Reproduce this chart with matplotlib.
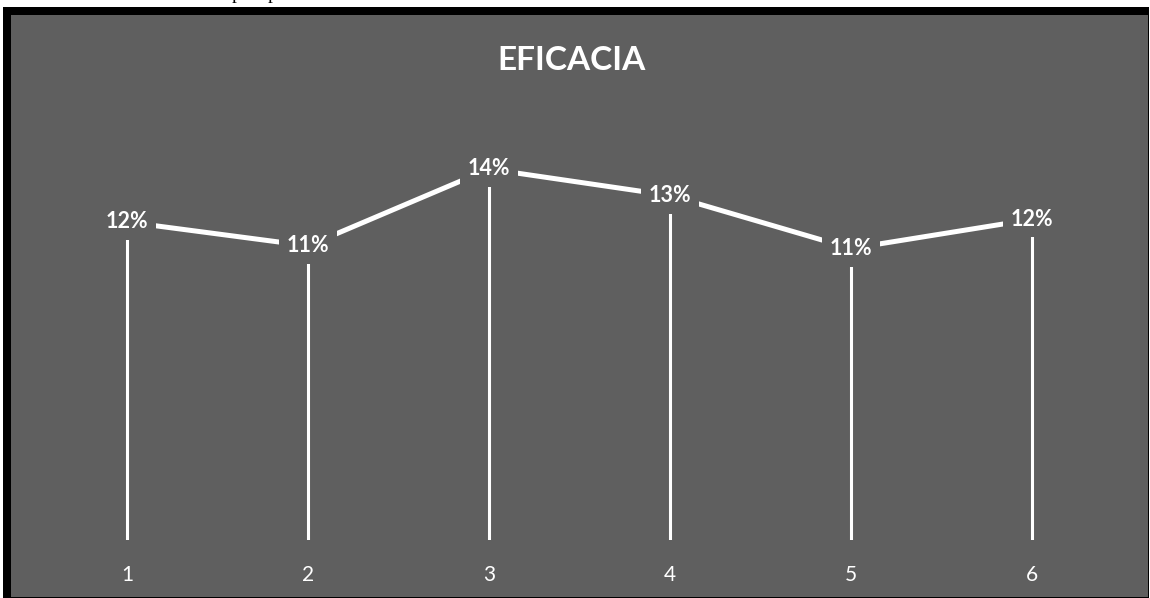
import matplotlib
matplotlib.use("Agg")
import matplotlib.pyplot as plt
from matplotlib.patches import Rectangle

# ------------------------------------------------------------
# dati
# ------------------------------------------------------------
CATEGORIE = ["1", "2", "3", "4", "5", "6"]
EFICACIA = [0.12, 0.111, 0.14, 0.13, 0.11, 0.121]

TITOLO = "EFICACIA"
SFONDO = "#5f5f5f"
BIANCO = "#ffffff"

W, H = 1150, 598
fig = plt.figure(figsize=(W / 100, H / 100), dpi=100)
fig.patch.set_facecolor("white")

# cornice nera + area grafico grigia (sotto gli assi)
fig.patches.append(Rectangle((3 / W, 0), 1146 / W, (H - 7) / H,
                             transform=fig.transFigure, facecolor="black",
                             edgecolor="none", zorder=-2))
fig.patches.append(Rectangle((11 / W, 1 / H), 1137 / W, (H - 16) / H,
                             transform=fig.transFigure, facecolor=SFONDO,
                             edgecolor="none", zorder=-1))

# resti di testo della pagina sopra il grafico
for px in (237, 273):
    fig.text(px / W, (H + 1) / H, "p", fontsize=14, family="Liberation Serif",
             color="black", ha="center", va="baseline")

ax = fig.add_axes([36.5 / W, 58 / H, 1086 / W, 477 / H])
ax.set_facecolor("none")
for s in ax.spines.values():
    s.set_visible(False)

x = list(range(1, len(CATEGORIE) + 1))

ax.vlines(x, 0, EFICACIA, color=BIANCO, linewidth=2.2, zorder=1)
ax.plot(x, EFICACIA, color=BIANCO, linewidth=3.6, solid_capstyle="butt",
        zorder=2)

for xi, v in zip(x, EFICACIA):
    ax.text(xi, v, f"{v:.0%}", ha="center", va="center", fontsize=15.5,
            fontweight="bold", family="Lato", color=BIANCO, zorder=3,
            bbox=dict(boxstyle="square,pad=0.35", facecolor=SFONDO,
                      edgecolor="none"))

ax.set_xlim(0.5, len(CATEGORIE) + 0.5)
ax.set_ylim(0, 0.18)
ax.set_xticks(x)
ax.set_xticklabels(CATEGORIE, fontsize=15, family="Lato", color=BIANCO)
ax.set_yticks([])
ax.tick_params(axis="x", length=0, pad=18)

fig.text(571 / W, 1 - 60 / H, TITOLO, ha="center", va="center",
         fontsize=24, fontweight="bold", family="Lato", color=BIANCO)

fig.savefig("out.png", dpi=100, facecolor=fig.get_facecolor())
